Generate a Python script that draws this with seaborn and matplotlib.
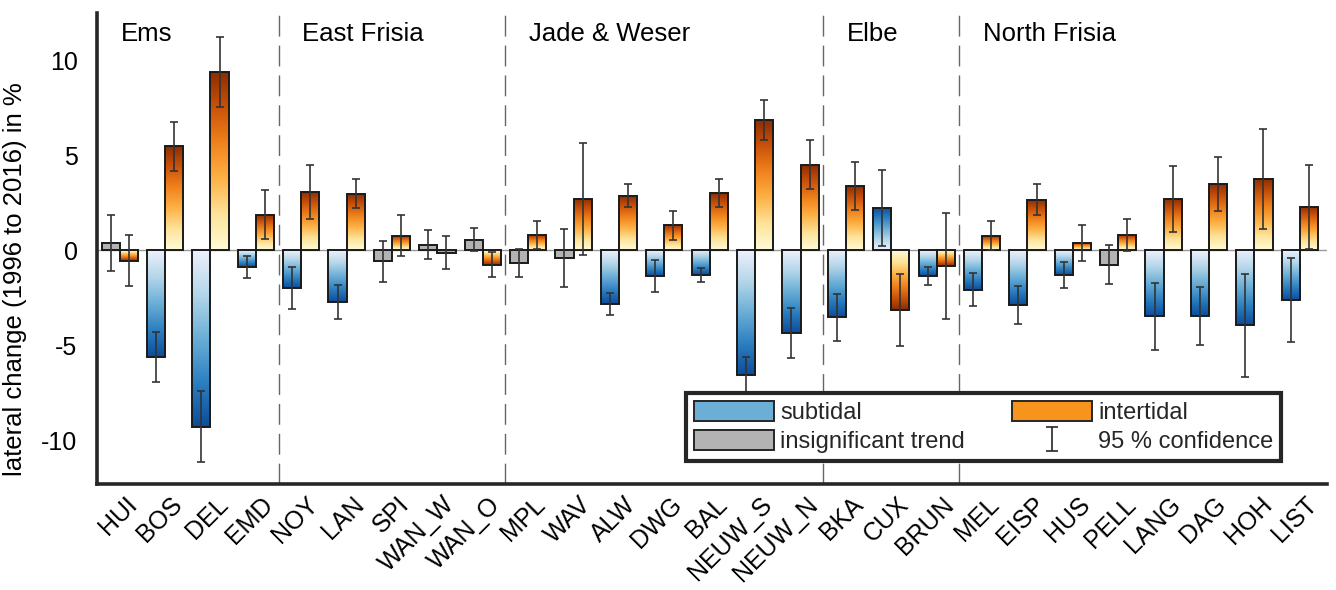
import numpy as np
import pandas as pd
import matplotlib
matplotlib.use("Agg")
import matplotlib.pyplot as plt
import matplotlib.transforms as mtransforms
from matplotlib.colors import LinearSegmentedColormap
from matplotlib.patches import Patch
import seaborn as sns

# ---------------- data ----------------
sites = ["HUI", "BOS", "DEL", "EMD", "NOY", "LAN", "SPI", "WAN_W", "WAN_O",
         "MPL", "WAV", "ALW", "DWG", "BAL", "NEUW_S", "NEUW_N",
         "BKA", "CUX", "BRUN", "MEL", "EISP", "HUS", "PELL", "LANG", "DAG", "HOH", "LIST"]
groups = ["Ems", "East Frisia", "Jade & Weser", "Elbe", "North Frisia"]
group_sizes = [4, 5, 7, 3, 8]

subtidal = [0.39, -5.61, -9.28, -0.86, -1.98, -2.70, -0.58, 0.30, 0.56,
            -0.65, -0.39, -2.81, -1.35, -1.32, -6.56, -4.35,
            -3.53, 2.23, -1.33, -2.07, -2.86, -1.28, -0.75, -3.47, -3.47, -3.95, -2.61]
subtidal_ci = [1.47, 1.33, 1.88, 0.58, 1.10, 0.90, 1.10, 0.75, 0.60,
               0.73, 1.52, 0.57, 0.82, 0.37, 0.95, 1.34,
               1.25, 2.00, 0.48, 0.86, 1.00, 0.69, 1.03, 1.77, 1.52, 2.72, 2.22]
subtidal_sig = [False, True, True, True, True, True, False, False, False,
                False, False, True, True, True, True, True,
                True, True, True, True, True, True, False, True, True, True, True]
intertidal = [-0.54, 5.49, 9.40, 1.88, 3.07, 2.98, 0.77, -0.12, -0.75,
              0.81, 2.72, 2.88, 1.33, 3.02, 6.88, 4.51,
              3.40, -3.12, -0.81, 0.77, 2.68, 0.39, 0.81, 2.70, 3.49, 3.77, 2.28]
intertidal_ci = [1.33, 1.29, 1.86, 1.30, 1.41, 0.76, 1.07, 0.88, 0.65,
                 0.75, 2.96, 0.60, 0.77, 0.73, 1.05, 1.30,
                 1.26, 1.90, 2.80, 0.77, 0.80, 0.97, 0.84, 1.74, 1.44, 2.63, 2.21]
intertidal_sig = [True] * len(sites)

types = ["subtidal", "intertidal"]
legend_labels = ["subtidal", "insignificant trend", "intertidal", "95 % confidence"]
ylabel = "lateral change (1996 to 2016) in %"

# ---------------- style ----------------
sns.set_theme(style="white")
plt.rcParams["font.family"] = ["Liberation Sans", "DejaVu Sans"]
DARK = "#262626"

df = pd.DataFrame({
    "site": sites * 2,
    "type": ["subtidal"] * len(sites) + ["intertidal"] * len(sites),
    "value": subtidal + intertidal,
})

fig = plt.figure(figsize=(13.36, 5.90), dpi=100)
ax = fig.add_axes([97 / 1336, 106 / 590, 1230 / 1336, 471 / 590])

sns.barplot(data=df, x="site", y="value", hue="type", order=sites, hue_order=types,
            palette={"subtidal": "#6baed6", "intertidal": "#f7941d"},
            width=0.8, dodge=True, errorbar=None, edgecolor="#1a1a1a",
            linewidth=1.4, legend=False, ax=ax, zorder=2)

blue_cmap = LinearSegmentedColormap.from_list(
    "bl", ["#eef1fc", "#b4d6ea", "#6aaed6", "#2c7fc0", "#0b4c9c"])
orange_cmap = LinearSegmentedColormap.from_list(
    "or", ["#fffbd6", "#fde39a", "#fdb246", "#f0821c", "#c9520a", "#8a2c02"])

grad = np.linspace(0, 1, 256).reshape(-1, 1)
sig_lists = [subtidal_sig, intertidal_sig]
ci_lists = [subtidal_ci, intertidal_ci]
cmaps = [blue_cmap, orange_cmap]

for cont, sig, ci, cmap in zip(ax.containers, sig_lists, ci_lists, cmaps):
    xs, ys = [], []
    for patch, s in zip(cont.patches, sig):
        x0, w = patch.get_x(), patch.get_width()
        h = patch.get_height()
        y0 = patch.get_y()
        xs.append(x0 + w / 2)
        ys.append(y0 + h)
        if not s:
            patch.set_facecolor("#b3b3b3")
            continue
        lo, hi = min(y0, y0 + h), max(y0, y0 + h)
        arr = grad if h >= 0 else grad[::-1]
        im = ax.imshow(arr, cmap=cmap, extent=(x0, x0 + w, lo, hi), origin="lower",
                       aspect="auto", interpolation="bilinear", zorder=1.9)
        im.set_clip_path(patch)
        patch.set_facecolor("none")
    ax.errorbar(xs, ys, yerr=ci, fmt="none", ecolor="#333333", elinewidth=1.2,
                capsize=3.2, capthick=1.2, zorder=3)

ax.axhline(0, color="#9a9a9a", lw=1.0, zorder=0.5)

# separators and group labels
start = 0
for g, n in zip(groups, group_sizes):
    ax.text(start + 0.02, 11.4, g, fontsize=18.5, ha="left", va="center", color="black")
    start += n
    if start < len(sites):
        ax.axvline(start - 0.5, color="#666666", lw=1.0, dashes=(15, 6.5), zorder=0.5)

ax.set_xlim(-0.5, 26.6)
ax.set_ylim(-12.3, 12.5)
ax.set_yticks([-10, -5, 0, 5, 10])
ax.set_yticklabels(["-10", "-5", "0", "5", "10"])
ax.set_xlabel("")
ax.set_ylabel(ylabel, fontsize=18.5, color="black")
ax.yaxis.set_label_coords(-0.057, 0.435)

for sp in ["top", "right"]:
    ax.spines[sp].set_visible(False)
for sp in ["left", "bottom"]:
    ax.spines[sp].set_linewidth(2.6)
    ax.spines[sp].set_color(DARK)
ax.tick_params(axis="both", direction="in", length=4, width=2, color=DARK,
               labelsize=18, labelcolor="black")
ax.tick_params(axis="x", labelsize=18, pad=6)
ax.tick_params(axis="y", pad=14)
offset = mtransforms.ScaledTranslation(5 / 100, 0, fig.dpi_scale_trans)
for lab in ax.get_xticklabels():
    lab.set_rotation(45)
    lab.set_ha("right")
    lab.set_va("top")
    lab.set_rotation_mode("anchor")
    lab.set_transform(lab.get_transform() + offset)

# legend
eb = ax.errorbar([np.nan], [np.nan], yerr=[1], fmt="none", ecolor="#262626",
                 elinewidth=1.2, capsize=4, capthick=1.2)
handles = [Patch(facecolor="#6baed6", edgecolor="#262626", lw=1.4),
           Patch(facecolor="#b3b3b3", edgecolor="#262626", lw=1.4),
           Patch(facecolor="#f7941d", edgecolor="#262626", lw=1.4),
           eb]
leg = ax.legend(handles, legend_labels, ncol=2, loc="upper left",
                bbox_to_anchor=((686 - 97) / 1230, (484 - 393) / 471), borderaxespad=0,
                fontsize=17, frameon=True, fancybox=False, handlelength=3.4,
                handleheight=0.95, handletextpad=0.25, columnspacing=2.0,
                labelspacing=0.25, borderpad=0.33)
leg.get_frame().set_linewidth(3)
leg.get_frame().set_edgecolor(DARK)
leg.get_frame().set_facecolor("white")
leg.get_frame().set_alpha(1)
leg.set_zorder(10)

fig.savefig("out.png", dpi=100)
